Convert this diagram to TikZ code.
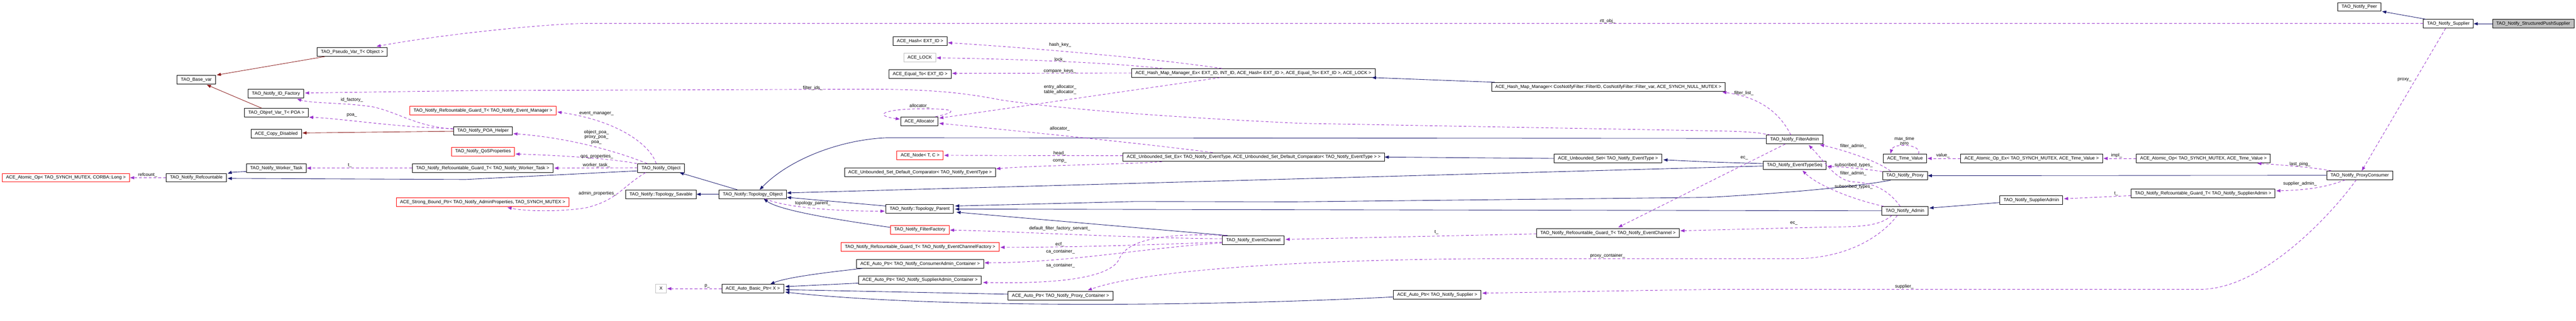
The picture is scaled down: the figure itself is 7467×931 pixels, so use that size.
\documentclass[tikz,border=0pt]{standalone}
\usepackage{fontspec}
\setmainfont{Liberation Sans}
\usetikzlibrary{arrows.meta,calc}
\definecolor{inhc}{HTML}{191970}
\definecolor{usec}{HTML}{9A32CD}
\definecolor{prvc}{HTML}{8B1A1A}
\definecolor{gbord}{HTML}{BFBFBF}
\newcommand\dgfont{\fontsize{13.2pt}{14.5pt}\selectfont}
\tikzset{
  box/.style={draw=black, line width=1.4pt, fill=white, minimum height=25pt, inner xsep=11pt, inner ysep=0pt, font=\dgfont, text height=9.6pt, text depth=2.6pt},
  redbox/.style={box, draw=red},
  graybox/.style={box, draw=gbord},
  mainbox/.style={box, fill=gbord},
  lbl/.style={font=\dgfont, inner sep=0pt, align=center},
  inh/.style={draw=inhc, line width=1.3pt, -{Triangle[length=12pt,width=9pt]}},
  prv/.style={draw=prvc, line width=1.3pt, -{Triangle[length=12pt,width=9pt]}},
  use/.style={draw=usec, line width=1.3pt, dash pattern=on 8pt off 6pt, -{Triangle[length=12pt,width=9pt]}}
}
\begin{document}
\begin{tikzpicture}[x=1pt,y=-1pt]
\fill[white] (0,0) rectangle (7467,931);
\path[use as bounding box] (0,0) rectangle (7467,931);

% nodes
\node[redbox, anchor=east] (atl) at (376,516) {ACE\_Atomic\_Op< TAO\_SYNCH\_MUTEX, CORBA::Long >};
\node[box] (refc) at (569,516) {TAO\_Notify\_Refcountable};
\node[box] (basevar) at (569,231) {TAO\_Base\_var};
\node[box] (pseudo) at (1021,151) {TAO\_Pseudo\_Var\_T< Object >};
\node[box] (idf) at (800,272) {TAO\_Notify\_ID\_Factory};
\node[box] (objpoa) at (801,327) {TAO\_Objref\_Var\_T< POA >};
\node[box] (copyd) at (801,388) {ACE\_Copy\_Disabled};
\node[box] (worker) at (801,488) {TAO\_Notify\_Worker\_Task};
\node[redbox] (gem) at (1400,321) {TAO\_Notify\_Refcountable\_Guard\_T< TAO\_Notify\_Event\_Manager >};
\node[box] (poah) at (1400,380) {TAO\_Notify\_POA\_Helper};
\node[redbox] (qos) at (1400,440) {TAO\_Notify\_QoSProperties};
\node[box] (gwt) at (1399,488) {TAO\_Notify\_Refcountable\_Guard\_T< TAO\_Notify\_Worker\_Task >};
\node[redbox] (sbp) at (1399,587) {ACE\_Strong\_Bound\_Ptr< TAO\_Notify\_AdminProperties, TAO\_SYNCH\_MUTEX >};
\node[box] (nobj) at (1916,488) {TAO\_Notify\_Object};
\node[box] (tsav) at (1916,564) {TAO\_Notify::Topology\_Savable};
\node[box] (tobj) at (2182,564) {TAO\_Notify::Topology\_Object};
\node[graybox] (X) at (1916,838) {X};
\node[box] (abp) at (2182,838) {ACE\_Auto\_Basic\_Ptr< X >};
\node[box] (hash) at (2667,119) {ACE\_Hash< EXT\_ID >};
\node[graybox] (lock) at (2666,167) {ACE\_LOCK};
\node[box] (eq) at (2667,215) {ACE\_Equal\_To< EXT\_ID >};
\node[box] (alloc) at (2665,352) {ACE\_Allocator};
\node[redbox] (node) at (2667,451) {ACE\_Node< T, C >};
\node[box] (cmp) at (2667,500) {ACE\_Unbounded\_Set\_Default\_Comparator< TAO\_Notify\_EventType >};
\node[box] (tpar) at (2666,606) {TAO\_Notify::Topology\_Parent};
\node[redbox] (ff) at (2666,667) {TAO\_Notify\_FilterFactory};
\node[redbox] (gecf) at (2667,717) {TAO\_Notify\_Refcountable\_Guard\_T< TAO\_Notify\_EventChannelFactory >};
\node[box] (cac) at (2667,766) {ACE\_Auto\_Ptr< TAO\_Notify\_ConsumerAdmin\_Container >};
\node[box] (sac) at (2667,813) {ACE\_Auto\_Ptr< TAO\_Notify\_SupplierAdmin\_Container >};
\node[box] (pc) at (3074,859) {ACE\_Auto\_Ptr< TAO\_Notify\_Proxy\_Container >};
\node[box] (hmmex) at (3633,212) {ACE\_Hash\_Map\_Manager\_Ex< EXT\_ID, INT\_ID, ACE\_Hash< EXT\_ID >, ACE\_Equal\_To< EXT\_ID >, ACE\_LOCK >};
\node[box] (usex) at (3634,456) {ACE\_Unbounded\_Set\_Ex< TAO\_Notify\_EventType, ACE\_Unbounded\_Set\_Default\_Comparator< TAO\_Notify\_EventType > >};
\node[box] (ec) at (3633,697) {TAO\_Notify\_EventChannel};
\node[box] (hmm) at (4662,252) {ACE\_Hash\_Map\_Manager< CosNotifyFilter::FilterID, CosNotifyFilter::Filter\_var, ACE\_SYNCH\_NULL\_MUTEX >};
\node[box] (us) at (4661,460) {ACE\_Unbounded\_Set< TAO\_Notify\_EventType >};
\node[box] (gec) at (4661,676) {TAO\_Notify\_Refcountable\_Guard\_T< TAO\_Notify\_EventChannel >};
\node[box] (aps) at (4166,856) {ACE\_Auto\_Ptr< TAO\_Notify\_Supplier >};
\node[box] (fa) at (5202,405) {TAO\_Notify\_FilterAdmin};
\node[box] (ets) at (5202,480) {TAO\_Notify\_EventTypeSeq};
\node[box] (proxy) at (5522,510) {TAO\_Notify\_Proxy};
\node[box] (admin) at (5522,612) {TAO\_Notify\_Admin};
\node[box] (tv) at (5522,460) {ACE\_Time\_Value};
\node[box] (aox) at (5889,460) {ACE\_Atomic\_Op\_Ex< TAO\_SYNCH\_MUTEX, ACE\_Time\_Value >};
\node[box] (sadm) at (5888,581) {TAO\_Notify\_SupplierAdmin};
\node[box] (ao) at (6387,460) {ACE\_Atomic\_Op< TAO\_SYNCH\_MUTEX, ACE\_Time\_Value >};
\node[box] (gsa) at (6386,561) {TAO\_Notify\_Refcountable\_Guard\_T< TAO\_Notify\_SupplierAdmin >};
\node[box] (pcons) at (6840,509) {TAO\_Notify\_ProxyConsumer};
\node[box] (peer) at (6839,20) {TAO\_Notify\_Peer};
\node[box] (sup) at (7097,69) {TAO\_Notify\_Supplier};
\node[mainbox] (sps) at (7343,69) {TAO\_Notify\_StructuredPushSupplier};

% inheritance (public)
\draw[inh] (sps.west) -- (sup.east);
\draw[inh] ($(sup.north west)+(8,0)$) -- ($(peer.south east)+(3,0)$);
\draw[inh] (pcons.west) -- (proxy.east);
\draw[inh] ($(sadm.west)+(0,7)$) -- ($(admin.east)+(3,-8)$);
\draw[inh] ($(proxy.south west)+(24,0)$) .. controls (5420,535) and (5250,557) .. (4950,573) -- (3750,586) -- (3290,585) -- ($(tpar.east)+(4,-8)$);
\draw[inh] (admin.west) -- ($(tpar.east)+(4,1)$);
\draw[inh] ($(ec.north west)+(16,0)$) -- ($(tpar.east)+(8,10)$);
\draw[inh] ($(ets.west)+(0,2)$) -- ($(tobj.east)+(1,-4)$);
\draw[inh] ($(ets.west)+(0,-5)$) -- (4950,470) -- ($(us.east)+(4,4)$);
\draw[inh] (us.west) -- (usex.east);
\draw[inh] ($(hmm.north west)+(10,0)$) -- ($(hmmex.south east)+(-10,0)$);
\draw[inh] ($(fa.west)+(0,-3)$) -- (2570,400) .. controls (2440,405) and (2290,460) .. ($(tobj.north)+(20,0)$);
\draw[inh] ($(ff.west)+(0,-7)$) .. controls (2440,640) and (2260,612) .. ($(tobj.south)+(32,0)$);
\draw[inh] ($(tpar.west)+(0,-8)$) -- ($(tobj.east)+(1,9)$);
\draw[inh] (tobj.west) -- (tsav.east);
\draw[inh] ($(tobj.north)+(-45,0)$) -- ($(nobj.south east)+(-14,0)$);
\draw[inh] ($(nobj.west)+(0,8)$) -- (1350,521) -- ($(refc.east)+(3,2)$);
\draw[inh] ($(worker.west)+(0,10)$) .. controls (690,499) and (672,500) .. ($(refc.north east)+(3,1)$);
\draw[inh] ($(cac.south west)+(19,0)$) .. controls (2400,790) and (2280,805) .. ($(abp.north)+(51,0)$);
\draw[inh] ($(sac.west)+(0,9)$) -- ($(abp.east)+(4,-6)$);
\draw[inh] ($(pc.west)+(0,-5)$) -- ($(abp.east)+(4,3)$);
\draw[inh] ($(aps.west)+(0,6)$) .. controls (3500,890) and (2700,895) .. ($(abp.east)+(4,10)$);

% inheritance (private)
\draw[prv] ($(pseudo.south west)+(23,0)$) -- ($(basevar.north east)+(3,0)$);
\draw[prv] ($(objpoa.north west)+(50,0)$) -- ($(basevar.south east)+(-26,2)$);
\draw[prv] ($(poah.west)+(0,1)$) -- ($(copyd.east)+(2,-2)$);

% usage
\draw[use] ($(sup.west)+(0,-1)$) -- (1700,68) .. controls (1580,69) and (1280,100) .. ($(pseudo.north east)+(-32,-3)$);
\draw[use] ($(fa.north west)+(12,0)$) .. controls (5090,383) and (5040,381) .. (4970,380) -- (3770,358) .. controls (3300,336) and (3050,312) .. (2900,290) .. controls (2760,262) and (2640,259) .. (2500,259) -- (1370,263) -- ($(idf.east)+(3,-2)$);
\draw[use] ($(poah.west)+(0,-5)$) .. controls (1200,365) and (1160,328) .. (1080,310) .. controls (1000,298) and (900,300) .. ($(idf.south east)+(-20,2)$);
\draw[use] ($(poah.west)+(0,-7)$) .. controls (1150,370) and (1000,345) .. ($(objpoa.south east)+(2,0)$);
\draw[use] (refc.west) -- ($(atl.east)+(1,0)$);
\draw[use] (gwt.west) -- ($(worker.east)+(1,0)$);
\draw[use] ($(nobj.west)+(0,-1)$) -- ($(gwt.east)+(3,0)$);
\draw[use] ($(nobj.north)+(-14,0)$) .. controls (1885,420) and (1790,350) .. ($(gem.east)+(3,4)$);
\draw[use] ($(nobj.north)+(-40,0)$) .. controls (1790,440) and (1650,400) .. ($(poah.east)+(2,8)$);
\draw[use] ($(nobj.north west)+(-2,0)$) .. controls (1780,462) and (1650,452) .. ($(qos.east)+(2,7)$);
\draw[use] ($(nobj.south west)+(23,0)$) .. controls (1800,545) and (1790,580) .. (1700,603) .. controls (1620,616) and (1520,613) .. ($(sbp.south)+(72,2)$);
\draw[use] ($(tobj.south)+(36,0)$) .. controls (2270,600) and (2400,613) .. ($(tpar.west)+(-3,7)$);
\draw[use] (abp.west) -- ($(X.east)+(2,0)$);
\draw[use] ($(hmmex.north)+(-91,0)$) .. controls (3350,170) and (3000,140) .. ($(hash.east)+(2,5)$);
\draw[use] ($(hmmex.north west)+(91,0)$) .. controls (3250,185) and (3000,172) .. ($(lock.east)+(2,1)$);
\draw[use] (hmmex.west) -- ($(eq.east)+(2,-2)$);
\draw[use] ($(hmmex.south)+(-96,0)$) -- ($(alloc.east)+(3,-9)$);
\draw[use] ($(alloc.north east)+(-8,0)$) .. controls (2790,322) and (2760,315) .. (2665,316) .. controls (2560,317) and (2530,335) .. ($(alloc.west)+(-2,-6)$);
\draw[use] ($(usex.north)+(-119,0)$) .. controls (3300,415) and (2900,375) .. ($(alloc.east)+(3,6)$);
\draw[use] ($(usex.west)+(0,-4)$) -- ($(node.east)+(2,0)$);
\draw[use] ($(usex.south west)+(114,0)$) .. controls (3300,476) and (3000,480) .. ($(cmp.east)+(1,-10)$);
\draw[use] ($(ec.west)+(0,-4)$) .. controls (3300,692) and (2900,670) .. ($(ff.east)+(2,1)$);
\draw[use] ($(ec.west)+(0,6)$) .. controls (3300,712) and (3100,718) .. ($(gecf.east)+(3,1)$);
\draw[use] ($(ec.west)+(0,8)$) .. controls (3300,722) and (3100,762) .. ($(cac.east)+(2,-3)$);
\draw[use] ($(ec.north west)+(12,0)$) .. controls (3400,676) and (3270,690) .. (3245,750) .. controls (3225,800) and (3100,825) .. ($(sac.east)+(4,7)$);
\draw[use] ($(admin.south)+(-22,0)$) .. controls (5450,690) and (5350,751) .. (5200,751) -- (4300,751) .. controls (3700,755) and (3300,790) .. ($(pc.north)+(79,-3)$);
\draw[use] ($(gec.west)+(0,3)$) -- ($(ec.east)+(3,-2)$);
\draw[use] ($(fa.south)+(-27,0)$) -- ($(gec.north)+(30,-3)$);
\draw[use] ($(admin.south)+(-38,0)$) .. controls (5450,655) and (5400,659) .. (5300,659) -- ($(gec.east)+(2,-6)$);
\draw[use] ($(fa.north)+(-11,0)$) .. controls (5150,310) and (5080,280) .. ($(hmm.south east)+(-9,2)$);
\draw[use] ($(proxy.north west)+(24,0)$) .. controls (5440,465) and (5330,432) .. ($(fa.south east)+(-9,2)$);
\draw[use] ($(admin.north)+(-14,0)$) .. controls (5480,560) and (5440,530) .. (5370,528) .. controls (5320,522) and (5290,470) .. ($(fa.south)+(41,3)$);
\draw[use] ($(proxy.west)+(0,-12)$) .. controls (5400,490) and (5350,485) .. ($(ets.east)+(3,3)$);
\draw[use] ($(admin.north west)+(6,0)$) .. controls (5380,582) and (5270,540) .. ($(ets.south)+(23,2)$);
\draw[use] (aox.west) -- ($(tv.east)+(2,0)$);
\draw[use] ($(tv.north)+(39,0)$) .. controls (5572,418) and (5488,414) .. ($(tv.north)+(-42,-1)$);
\draw[use] (ao.west) -- ($(aox.east)+(2,0)$);
\draw[use] ($(pcons.north west)+(14,0)$) .. controls (6700,485) and (6600,478) .. ($(ao.south east)+(-39,1)$);
\draw[use] ($(pcons.south)+(-42,0)$) .. controls (6740,545) and (6680,552) .. ($(gsa.east)+(3,-7)$);
\draw[use] ($(gsa.west)+(0,7)$) -- ($(sadm.east)+(3,-4)$);
\draw[use] ($(pcons.south)+(-10,0)$) .. controls (6760,620) and (6560,838) .. (6380,840) -- (4970,840) -- ($(aps.east)+(3,-5)$);
\draw[use] ($(sup.south)+(-8,0)$) -- ($(pcons.north)+(6,0)$);

% edge labels
\node[lbl] (l1) at (4660,62) {rtt\_obj\_};
\node[lbl] (l2) at (2356,256) {filter\_ids\_};
\node[lbl] (l3) at (1020,290) {id\_factory\_};
\node[lbl] (l4) at (1020,335) {poa\_};
\node[lbl] (l5) at (428,508) {refcount\_};
\node[lbl] (l6) at (1014,480) {t\_};
\node[lbl] (l7) at (1729,480) {worker\_task\_};
\node[lbl] (l8) at (1729,330) {event\_manager\_};
\node[lbl] (l9) at (1729,398) {object\_poa\_\\proxy\_poa\_\\poa\_};
\node[lbl] (l10) at (1730,455) {qos\_properties\_};
\node[lbl] (l11) at (1732,562) {admin\_properties\_};
\node[lbl] (l12) at (2356,590) {topology\_parent\_};
\node[lbl] (l13) at (2050,830) {p\_};
\node[lbl] (l14) at (3073,130) {hash\_key\_};
\node[lbl] (l15) at (3072,173) {lock\_};
\node[lbl] (l16) at (3072,207) {compare\_keys\_};
\node[lbl] (l17) at (3073,260) {entry\_allocator\_\\table\_allocator\_};
\node[lbl] (l18) at (2665,308) {allocator\_};
\node[lbl] (l19) at (3072,374) {allocator\_};
\node[lbl] (l20) at (3072,446) {head\_};
\node[lbl] (l21) at (3072,468) {comp\_};
\node[lbl] (l22) at (3072,664) {default\_filter\_factory\_servant\_};
\node[lbl] (l23) at (3072,710) {ecf\_};
\node[lbl] (l24) at (3074,730) {ca\_container\_};
\node[lbl] (l25) at (3074,771) {sa\_container\_};
\node[lbl] (l26) at (4660,743) {proxy\_container\_};
\node[lbl] (l27) at (4164,675) {t\_};
\node[lbl] (l28) at (5056,458) {ec\_};
\node[lbl] (l29) at (5200,648) {ec\_};
\node[lbl] (l30) at (5055,271) {filter\_list\_};
\node[lbl] (l31) at (5372,424) {filter\_admin\_};
\node[lbl] (l32) at (5372,503) {filter\_admin\_};
\node[lbl] (l33) at (5373,480) {subscribed\_types\_};
\node[lbl] (l34) at (5373,542) {subscribed\_types\_};
\node[lbl] (l35) at (5632,452) {value\_};
\node[lbl] (l36) at (5520,409) {max\_time\\zero};
\node[lbl] (l37) at (6135,452) {impl\_};
\node[lbl] (l38) at (6667,476) {last\_ping\_};
\node[lbl] (l39) at (6667,534) {supplier\_admin\_};
\node[lbl] (l40) at (6134,562) {t\_};
\node[lbl] (l41) at (5520,832) {supplier\_};
\node[lbl] (l42) at (6970,232) {proxy\_};
\end{tikzpicture}
\end{document}
